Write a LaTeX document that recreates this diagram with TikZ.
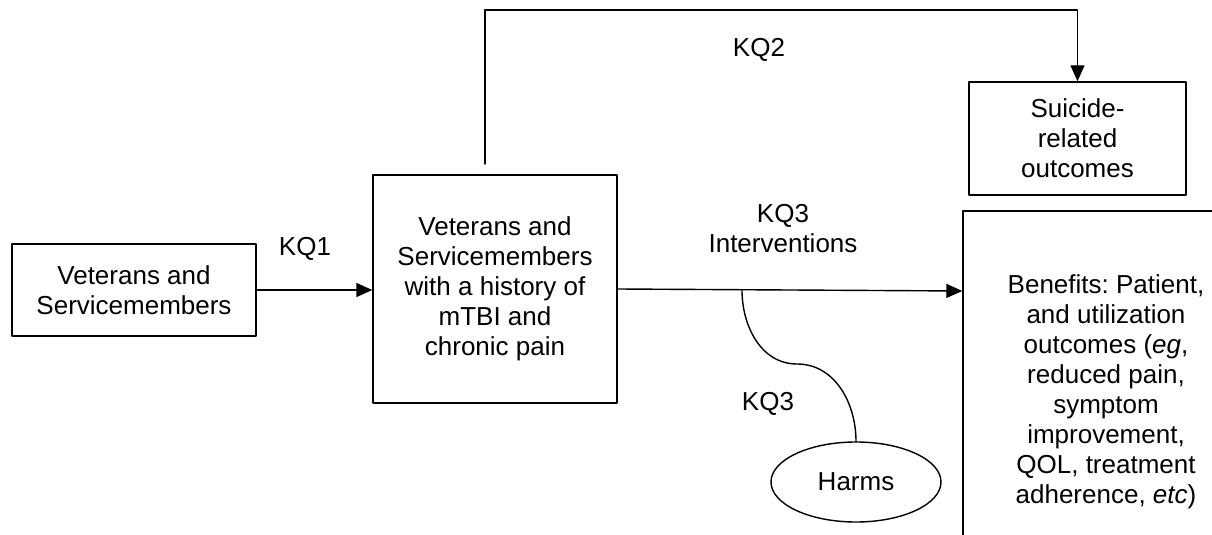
\documentclass[tikz,border=0pt]{standalone}
\usepackage{fontspec}
\setmainfont{Liberation Sans}
\usetikzlibrary{arrows.meta}
\usetikzlibrary{shapes.geometric}
\usetikzlibrary{positioning}
\frenchspacing

\begin{document}
\begin{tikzpicture}[line cap=round,line join=round,>={Triangle[length=8pt,width=7pt]},x=0.5pt,y=-0.5pt,
    box/.style={draw,line width=0.7pt,align=center,inner sep=0pt,font=\fontsize{13}{15}\selectfont},
    lbl/.style={align=center,inner sep=0pt,font=\fontsize{13}{15}\selectfont}]
      \useasboundingbox (0,0) rectangle (1212,535);
      \node[box,minimum width=122pt,minimum height=46pt] (vets) at (134,290) {Veterans and\\Servicemembers};
      \node[box,minimum width=122pt,minimum height=114pt] (mtbi) at (495,289) {Veterans and\\Servicemembers\\with a history of\\mTBI and\\chronic pain};
      \node[box,minimum width=108.5pt,minimum height=56.5pt] (suicide) at (1077.5,138.5) {Suicide-\\related\\outcomes};
      \node[box,minimum width=143pt,minimum height=181pt] (benefits) at (1106,392) {Benefits: Patient,\\and utilization\\outcomes (\textit{eg},\\reduced pain,\\symptom\\improvement,\\QOL, treatment\\adherence, \textit{etc})};
      \node[box,ellipse,minimum width=85pt,minimum height=40pt] (harms) at (856,482) {Harms};
      \node[lbl] (kq1) at (305,249) {KQ1};
      \node[lbl] (kq2) at (759,50) {KQ2};
      \node[lbl] (kq3i) at (783,229) {KQ3\\Interventions};
      \node[lbl] (kq3h) at (768,404) {KQ3};
      \coordinate (kq2start) at (485,164);
      \coordinate (kq2corner) at (485,10);
      \coordinate (split) at (742,290);
      \coordinate (bend) at (797,364);
      \draw[->,line width=0.7pt] (vets.east) -- (mtbi.west |- vets.east);
      \draw[->,line width=0.7pt] (mtbi.east) -- (benefits.west |- 0,291);
      \draw[->,line width=0.7pt] (kq2start) -- (kq2corner) -| (suicide.north);
      \draw[line width=0.7pt] (split) to[out=-90,in=180] (bend) to[out=0,in=90] (harms.north);
    \end{tikzpicture}
\end{document}
